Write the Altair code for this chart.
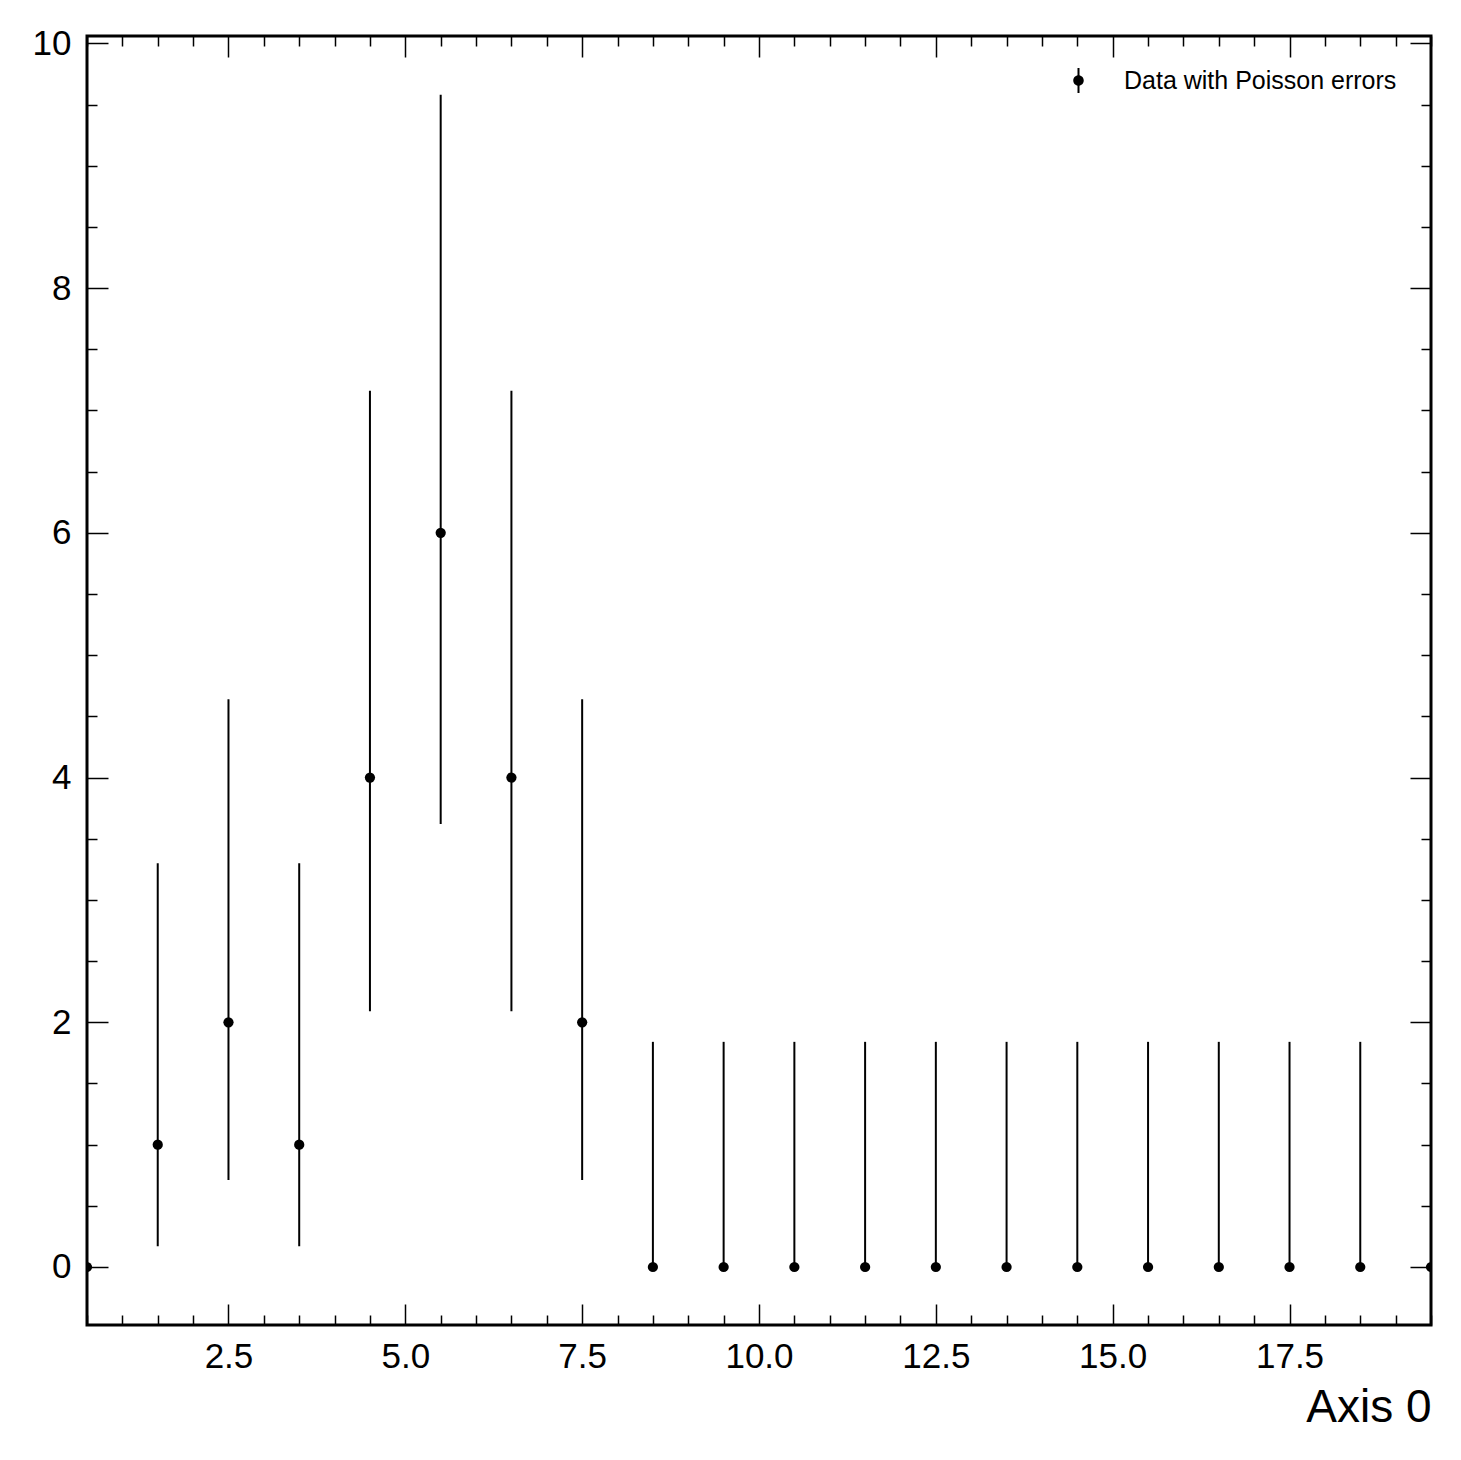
import altair as alt
import pandas as pd

# ---- data ----
x_centers = [0.5, 1.5, 2.5, 3.5, 4.5, 5.5, 6.5, 7.5, 8.5, 9.5,
             10.5, 11.5, 12.5, 13.5, 14.5, 15.5, 16.5, 17.5, 18.5, 19.5]
counts = [0, 1, 2, 1, 4, 6, 4, 2, 0, 0, 0, 0, 0, 0, 0, 0, 0, 0, 0, 0]
err_low = [0.0, 0.17, 0.71, 0.17, 2.09, 3.62, 2.09, 0.71, 0, 0,
           0, 0, 0, 0, 0, 0, 0, 0, 0, 0]
err_high = [1.84, 3.30, 4.64, 3.30, 7.16, 9.58, 7.16, 4.64, 1.84, 1.84,
            1.84, 1.84, 1.84, 1.84, 1.84, 1.84, 1.84, 1.84, 1.84, 1.84]
series_label = "Data with Poisson errors"
x_title = "Axis 0"

x_major = [2.5, 5.0, 7.5, 10.0, 12.5, 15.0, 17.5]
x_minor = [v / 2 for v in range(1, 40) if (v / 2) not in x_major]
y_major = [0, 2, 4, 6, 8, 10]
y_minor = [v / 2 for v in range(-1, 21) if (v / 2) not in y_major]

df = pd.DataFrame({
    "x": x_centers, "y": counts, "lo": err_low, "hi": err_high,
    "series": [series_label] * len(x_centers),
})

W, H = 1344, 1289
FONT = "Liberation Sans"

xs = alt.Scale(domain=[0.5, 19.5], nice=False, zero=False)
ys = alt.Scale(domain=[-0.474, 10.06], nice=False, zero=False)


def tick_axis(orient, offset, values, size):
    return alt.Axis(orient=orient, offset=offset, values=values, labels=False,
                    domain=False, grid=False, ticks=True, tickSize=size,
                    tickWidth=1.5, tickColor="black", title=None)


x_main = alt.Axis(orient="bottom", values=x_major, format=".1f", ticks=False,
                  tickSize=0, domain=False, grid=False, labelFontSize=35,
                  labelFont=FONT, labelColor="black", labelPadding=42,
                  labelBaseline="alphabetic", labelFlush=False, labelOverlap=False,
                  title=x_title, titleFont=FONT, titleFontSize=46,
                  titleFontWeight="normal", titleColor="black", titleX=W,
                  titleY=96, titleAlign="right", titleBaseline="alphabetic")
y_main = alt.Axis(orient="left", values=y_major, format="d", ticks=False,
                  tickSize=0, domain=False, grid=False, labelFontSize=35,
                  labelFont=FONT, labelColor="black", labelPadding=16,
                  labelFlush=False, labelOverlap=False, title=None)

base = alt.Chart(df)

# error bars
bars = base.mark_rule(color="black", strokeWidth=2, clip=True).encode(
    x=alt.X("x:Q", scale=xs, axis=tick_axis("top", -H, x_major, 21)),
    y=alt.Y("lo:Q", scale=ys, axis=tick_axis("right", -W, y_major, 21)),
    y2="hi:Q",
)

legend_path = ("M-0.08,-1H0.08V1H-0.08Z"
               "M0.42,0A0.42,0.42,0,1,1,-0.42,0A0.42,0.42,0,1,1,0.42,0Z")

points = base.mark_circle(size=105, opacity=1, clip=True).encode(
    x=alt.X("x:Q", scale=xs, axis=x_main),
    y=alt.Y("y:Q", scale=ys, axis=y_main),
    color=alt.Color("series:N", scale=alt.Scale(range=["black"]),
                    legend=alt.Legend(title=None, orient="none",
                                      legendX=979, legendY=32,
                                      symbolType=legend_path, symbolSize=625,
                                      symbolStrokeWidth=0, labelFont=FONT,
                                      labelFontSize=25, labelColor="black",
                                      labelOffset=33, labelLimit=0, padding=0)),
)

inv1 = base.mark_point(opacity=0).encode(
    x=alt.X("x:Q", scale=xs, axis=tick_axis("top", -H, x_minor, 10)),
    y=alt.Y("y:Q", scale=ys, axis=tick_axis("right", -W, y_minor, 10)),
)
inv2 = base.mark_point(opacity=0).encode(
    x=alt.X("x:Q", scale=xs, axis=tick_axis("bottom", -H, x_major, 21)),
    y=alt.Y("y:Q", scale=ys, axis=tick_axis("left", -W, y_major, 21)),
)
inv3 = base.mark_point(opacity=0).encode(
    x=alt.X("x:Q", scale=xs, axis=tick_axis("bottom", -H, x_minor, 10)),
    y=alt.Y("y:Q", scale=ys, axis=tick_axis("left", -W, y_minor, 10)),
)

chart = alt.layer(bars, inv1, inv2, inv3, points).resolve_axis(
    x="independent", y="independent"
).properties(
    width=W, height=H, autosize="none",
    padding={"left": 79, "top": 28, "right": 22, "bottom": 120},
    background="white",
).configure_view(stroke="black", strokeWidth=3)

chart.save("out.html", embed_options={"renderer": "svg", "actions": False})
